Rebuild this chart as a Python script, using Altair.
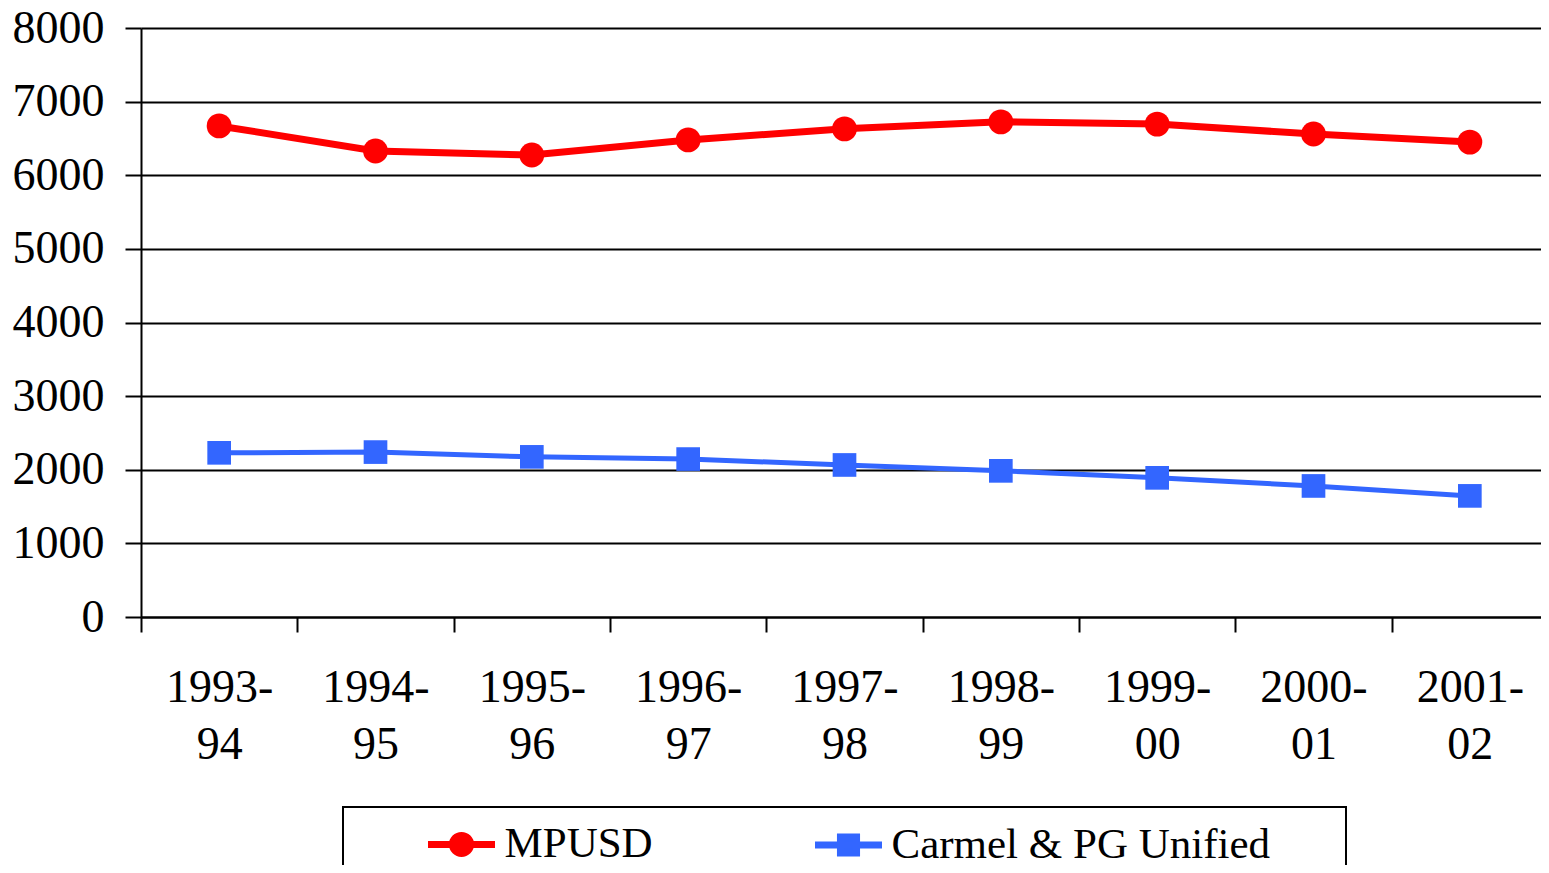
import altair as alt
import pandas as pd

years = ["1993-94", "1994-95", "1995-96", "1996-97", "1997-98",
         "1998-99", "1999-00", "2000-01", "2001-02"]
mpusd = [6670, 6330, 6275, 6480, 6630, 6725, 6695, 6560, 6450]
carmel = [2230, 2240, 2175, 2145, 2065, 1985, 1890, 1780, 1645]
series_names = ["MPUSD", "Carmel & PG Unified"]
series_colors = ["#FF0000", "#3366FF"]

df = pd.DataFrame({
    "year": years * 2,
    "value": mpusd + carmel,
    "series": [series_names[0]] * len(years) + [series_names[1]] * len(years),
})

FONT = "Liberation Serif"

x = alt.X(
    "year:O", sort=years, bandPosition=0.5,
    scale=alt.Scale(type="band", paddingInner=0, paddingOuter=0, range=[0, 1407]),
    axis=alt.Axis(
        title=None, grid=False, tickBand="extent", ticks=True, tickSize=15,
        tickWidth=2, tickColor="black", domainColor="black", domainWidth=2,
        labelFont=FONT, labelFontSize=46, labelColor="black", labelPadding=33,
        labelLineHeight=57, labelAngle=0, labelBaseline="top",
        labelExpr=("datum.label ? [split(datum.label, '-')[0] + '-', "
                   "split(datum.label, '-')[1]] : ''"),
    ),
)
y = alt.Y(
    "value:Q",
    scale=alt.Scale(domain=[0, 8000], nice=False),
    axis=alt.Axis(
        title=None, values=list(range(0, 8001, 1000)), format="d", tickSize=16,
        tickWidth=2, tickColor="black", domainColor="black", domainWidth=2,
        grid=True, gridColor="black", gridWidth=2, labelFont=FONT,
        labelFontSize=46, labelColor="black", labelPadding=21,
    ),
)

base = alt.Chart(df)
specs = [
    (series_names[0], series_colors[0], "circle", 7, 620),
    (series_names[1], series_colors[1], "square", 5, 560),
]
layers = []
for name, color, shape, width, size in specs:
    sub = base.transform_filter(alt.datum.series == name)
    layers.append(sub.mark_line(color=color, strokeWidth=width).encode(x=x, y=y))
    layers.append(sub.mark_point(shape=shape, filled=True, color=color, size=size,
                                 opacity=1, strokeWidth=0).encode(x=x, y=y))

circle_path = ("M-1,0L1,0M-0.27,0A0.27,0.27,0,1,0,0.27,0"
               "A0.27,0.27,0,1,0,-0.27,0Z")
square_path = "M-1,0L1,0M-0.24,-0.24L0.24,-0.24L0.24,0.24L-0.24,0.24ZM14.42,0"

def leg():
    return alt.Legend(
        title=None, orient="none", legendX=202, legendY=779,
        direction="horizontal", columns=2, padding=0, strokeColor="black",
        labelFont=FONT, labelFontSize=43, labelColor="black",
        labelOffset=6, symbolOffset=81.5,
        labelLimit=1000, symbolSize=4489, symbolStrokeWidth=7,
        columnPadding=77, symbolOpacity=1,
    )

legend_layer = base.transform_filter("false").mark_point(filled=True, opacity=1).encode(
    shape=alt.Shape("series:N", scale=alt.Scale(domain=series_names,
                                                range=[circle_path, square_path]), legend=leg()),
    fill=alt.Fill("series:N", scale=alt.Scale(domain=series_names, range=series_colors),
                  legend=leg()),
    stroke=alt.Stroke("series:N", scale=alt.Scale(domain=series_names, range=series_colors),
                      legend=leg()),
)

chart = alt.layer(*layers, legend_layer).properties(
    width=1400, height=589,
    autosize=alt.AutoSizeParams(type="none"),
    padding={"left": 133, "top": 20, "right": 0, "bottom": 248},
    background="white",
).configure_view(stroke=None).configure_legend(strokeWidth=2)

chart.save("out.html", embed_options={"renderer": "svg", "actions": False})
